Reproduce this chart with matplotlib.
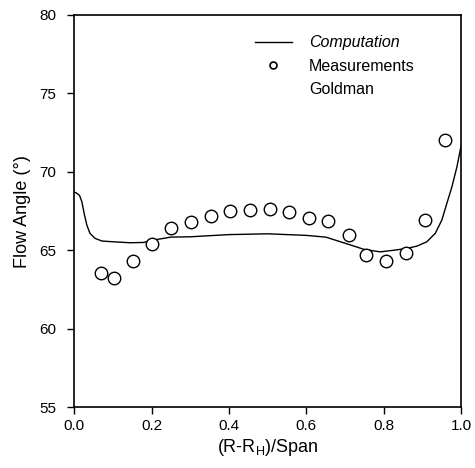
import numpy as np
import matplotlib
matplotlib.use('Agg')
import matplotlib.pyplot as plt
from matplotlib.lines import Line2D

plt.rcParams['font.family'] = ['Liberation Sans', 'DejaVu Sans']

# 计算结果 (Computation)
comp_x = [0.0, 0.005, 0.014, 0.020, 0.026, 0.033, 0.041, 0.054, 0.072, 0.102,
          0.145, 0.18, 0.20, 0.25, 0.30, 0.40, 0.50, 0.60, 0.65, 0.70, 0.75,
          0.791, 0.825, 0.860, 0.886, 0.911, 0.933, 0.950, 0.963, 0.976, 0.989, 1.0]
comp_y = [68.7, 68.67, 68.5, 68.1, 67.35, 66.6, 66.08, 65.76, 65.59, 65.54,
          65.48, 65.5, 65.63, 65.84, 65.86, 66.0, 66.05, 65.95, 65.84, 65.45, 65.05,
          64.9, 65.0, 65.12, 65.27, 65.54, 66.08, 66.93, 68.0, 69.05, 70.33, 71.7]

# 测量值 (Measurements, Goldman)
meas_x = [0.070, 0.104, 0.151, 0.200, 0.250, 0.302, 0.353, 0.404, 0.454, 0.505,
          0.556, 0.606, 0.655, 0.709, 0.753, 0.805, 0.858, 0.907, 0.957]
meas_y = [63.55, 63.25, 64.31, 65.42, 66.42, 66.80, 67.16, 67.50, 67.59, 67.61,
          67.46, 67.03, 66.84, 65.95, 64.72, 64.33, 64.84, 66.90, 72.05]

x_ticks = [0.0, 0.2, 0.4, 0.6, 0.8, 1.0]
y_ticks = [55, 60, 65, 70, 75, 80]

fig = plt.figure(figsize=(4.75, 4.68), dpi=100)
ax = fig.add_axes([0.156, 0.130, 0.815, 0.838])

ax.plot(comp_x, comp_y, color='black', lw=1.0)
ax.plot(meas_x, meas_y, 'o', mfc='white', mec='black', mew=1.0, ms=9)

ax.set_xlim(0, 1)
ax.set_ylim(55, 80)
ax.set_xticks(x_ticks)
ax.set_xticklabels(['%.1f' % v for v in x_ticks])
ax.set_yticks(y_ticks)
ax.tick_params(direction='out', length=5, width=1, labelsize=11, colors='black')
ax.tick_params(axis='y', pad=8)
for s in ax.spines.values():
    s.set_linewidth(1.2)

ax.set_xlabel('(R-R$_\\mathregular{H}$)/Span', fontsize=13, labelpad=3)
ax.set_ylabel('Flow Angle (°)', fontsize=13, labelpad=6)

# 图例: 圆圈与 "Measurements" 对齐, "Goldman" 无图标
handles = [Line2D([], [], color='black', lw=1.0),
           Line2D([], [], ls='none', marker='o', mfc='white', mec='black', mew=1.2, ms=5),
           Line2D([], [], ls='none')]
leg = ax.legend(handles, ['Computation', 'Measurements', 'Goldman'], loc='upper left',
                bbox_to_anchor=(0.43, 0.985), frameon=False, fontsize=11.5,
                handlelength=2.3, labelspacing=0.52, handletextpad=1.1)
leg.get_texts()[0].set_style('italic')

fig.savefig('out.png', dpi=100)
